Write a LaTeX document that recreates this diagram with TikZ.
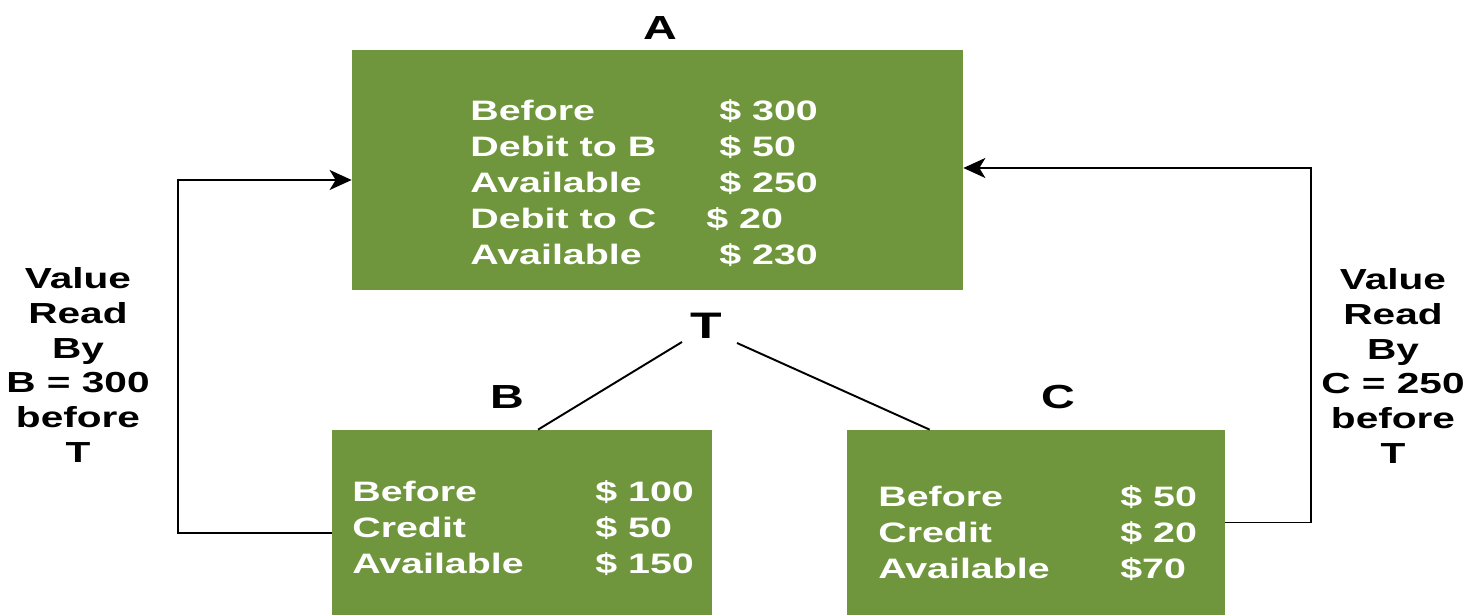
\documentclass[tikz,border=0pt]{standalone}
\usepackage{fontspec}
\setmainfont{Liberation Sans}[FakeStretch=1.4]
\usetikzlibrary{arrows.meta,calc}
\definecolor{BoxClr}{RGB}{111,150,61}

\begin{document}
\begin{tikzpicture}[
  acctbox/.style={fill=BoxClr,inner sep=0pt},
  rows/.style={text=white,font=\fontsize{16}{20.4}\selectfont\bfseries,inner sep=0pt,anchor=west},
  tag/.style={font=\fontsize{19}{22}\selectfont\bfseries,inner sep=0pt},
  note/.style={font=\fontsize{16.5}{19.9}\selectfont\bfseries,align=center,inner sep=0pt},
  link/.style={line width=1.1pt},
  flow/.style={line width=1.1pt,-{Stealth[length=0.44cm,width=0.4cm,inset=0.12cm]}}
]
\useasboundingbox (0,0) rectangle (29.44,12.3);

% account boxes
\node[acctbox,minimum width=12.22cm,minimum height=4.8cm] (boxA) at (13.15,8.9) {};
\node[acctbox,minimum width=7.6cm,minimum height=3.7cm] (boxB) at (10.44,1.85) {};
\node[acctbox,minimum width=7.56cm,minimum height=3.7cm] (boxC) at (20.72,1.85) {};

\node[rows] (txtA) at (9.4,8.59) {\begin{tabular}{@{}p{4.98cm}@{}l@{}}
Before & \$ 300\\
Debit to B & \$ 50\\
Available & \$ 250\\
Debit to C & \hspace*{-0.26cm}\$ 20\\
Available & \$ 230
\end{tabular}};
\node[rows] (txtB) at (7.04,1.7) {\begin{tabular}{@{}p{4.86cm}@{}l@{}}
Before & \$ 100\\
Credit & \$ 50\\
Available & \$ 150
\end{tabular}};
\node[rows] (txtC) at (17.56,1.6) {\begin{tabular}{@{}p{4.84cm}@{}l@{}}
Before & \$ 50\\
Credit & \$ 20\\
Available & \$70
\end{tabular}};

\node[tag] (labA) at (13.2,11.74) {A};
\node[tag] (labB) at (10.14,4.36) {B};
\node[tag] (labC) at (21.16,4.36) {C};
\node[tag,font=\fontsize{21}{24}\selectfont\bfseries] (tT) at (14.12,5.78) {T};

\draw[link] ([shift={(-0.48,-0.32)}]tT.center) -- ([xshift=0.32cm]boxB.north);
\draw[link] ([shift={(0.62,-0.34)}]tT.center) -- ([xshift=1.66cm]boxC.north west);

% values read before T
\draw[flow] ([yshift=-0.21cm]boxB.west) -- ++(-3.08,0) |- ([yshift=-0.2cm]boxA.west);
\draw[flow] (boxC.east) -- ++(1.72,0) |- ([yshift=0.04cm]boxA.east);

\node[note] (noteB) at (1.56,5.0) {Value\\Read\\By\\B = 300\\before\\T};
\node[note] (noteC) at (27.86,4.98) {Value\\Read\\By\\C = 250\\before\\T};
\end{tikzpicture}
\end{document}
